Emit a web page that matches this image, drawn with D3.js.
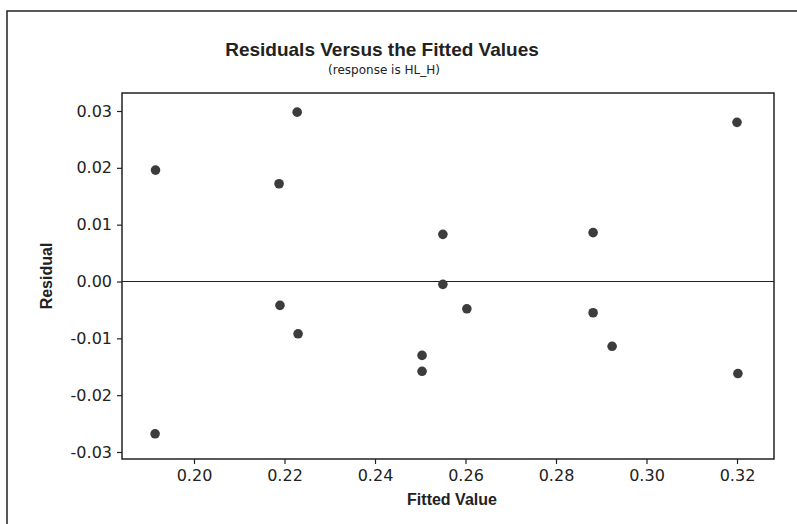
<!DOCTYPE html>
<html>
<head>
<meta charset="utf-8">
<script src="https://cdn.jsdelivr.net/npm/d3@7"></script>
<style>
  body { margin: 0; background: #fff; }
  svg { display: block; font-family: "DejaVu Sans", sans-serif; }
</style>
</head>
<body>
<div id="chart"></div>
<script>
const fitted = [0.1915, 0.1914, 0.2188, 0.2190, 0.2228, 0.2230, 0.2504, 0.2504,
                0.2550, 0.2550, 0.2603, 0.2882, 0.2882, 0.2924, 0.3200, 0.3202];
const residual = [0.0196, -0.0268, 0.0172, -0.0042, 0.0298, -0.0092, -0.0130, -0.0158,
                  0.0083, -0.0005, -0.0048, 0.0086, -0.0055, -0.0114, 0.0280, -0.0162];
const xTicks = [0.20, 0.22, 0.24, 0.26, 0.28, 0.30, 0.32];
const yTicks = [0.03, 0.02, 0.01, 0.00, -0.01, -0.02, -0.03];

const width = 797, height = 524;
const plot = { left: 122, top: 93, right: 774, bottom: 459 };

const svg = d3.select("#chart").append("svg")
    .attr("width", width)
    .attr("height", height);

// outer graph border (runs off the page on the right and bottom)
svg.append("rect")
    .attr("x", 7).attr("y", 11)
    .attr("width", 800).attr("height", 530)
    .attr("fill", "none")
    .attr("stroke", "#222")
    .attr("stroke-width", 1.5);

// domain chosen so tick positions land where they sit in the picture
const x = d3.scaleLinear()
    .domain([0.20 - (194 - plot.left) / 4525, 0.32 + (plot.right - 737) / 4525])
    .range([plot.left, plot.right]);
const y = d3.scaleLinear()
    .domain([-0.03 - (plot.bottom - 452) / 5683, 0.03 + (111 - plot.top) / 5683])
    .range([plot.bottom, plot.top]);

const fmt = d => d.toFixed(2);

const xAxis = svg.append("g")
    .attr("transform", `translate(0,${plot.bottom})`)
    .call(d3.axisBottom(x).tickValues(xTicks).tickSize(5).tickPadding(6).tickFormat(fmt));
const yAxis = svg.append("g")
    .attr("transform", `translate(${plot.left},0)`)
    .call(d3.axisLeft(y).tickValues(yTicks).tickSize(5).tickPadding(5).tickFormat(fmt));

[xAxis, yAxis].forEach(a => {
    a.select(".domain").remove();
    a.selectAll(".tick line").attr("stroke", "#222").attr("stroke-width", 1.2);
    a.selectAll(".tick text")
        .attr("font-family", "DejaVu Sans, sans-serif")
        .attr("font-size", "16px")
        .attr("fill", "#222");
});

// plot frame
svg.append("rect")
    .attr("x", plot.left).attr("y", plot.top)
    .attr("width", plot.right - plot.left)
    .attr("height", plot.bottom - plot.top)
    .attr("fill", "none")
    .attr("stroke", "#222")
    .attr("stroke-width", 1.5);

// zero reference line
svg.append("line")
    .attr("x1", plot.left).attr("x2", plot.right)
    .attr("y1", y(0)).attr("y2", y(0))
    .attr("stroke", "#222")
    .attr("stroke-width", 1.2);

svg.append("g")
    .selectAll("circle")
    .data(fitted.map((f, i) => ({ f, r: residual[i] })))
    .join("circle")
    .attr("cx", d => x(d.f))
    .attr("cy", d => y(d.r))
    .attr("r", 4.8)
    .attr("fill", "#3c3c3c");

// titles
svg.append("text")
    .attr("x", 382).attr("y", 56)
    .attr("text-anchor", "middle")
    .attr("font-family", "Liberation Sans, Arial, sans-serif")
    .attr("font-size", "19px")
    .attr("font-weight", "bold")
    .attr("fill", "#222")
    .text("Residuals Versus the Fitted Values");

svg.append("text")
    .attr("x", 384).attr("y", 74)
    .attr("text-anchor", "middle")
    .attr("font-size", "12px")
    .attr("fill", "#222")
    .text("(response is HL_H)");

svg.append("text")
    .attr("x", 452).attr("y", 505)
    .attr("text-anchor", "middle")
    .attr("font-family", "Liberation Sans, Arial, sans-serif")
    .attr("font-size", "16px")
    .attr("font-weight", "bold")
    .attr("fill", "#222")
    .text("Fitted Value");

svg.append("text")
    .attr("transform", `translate(52,${(plot.top + plot.bottom) / 2}) rotate(-90)`)
    .attr("text-anchor", "middle")
    .attr("font-family", "Liberation Sans, Arial, sans-serif")
    .attr("font-size", "16px")
    .attr("font-weight", "bold")
    .attr("fill", "#222")
    .text("Residual");
</script>
</body>
</html>
